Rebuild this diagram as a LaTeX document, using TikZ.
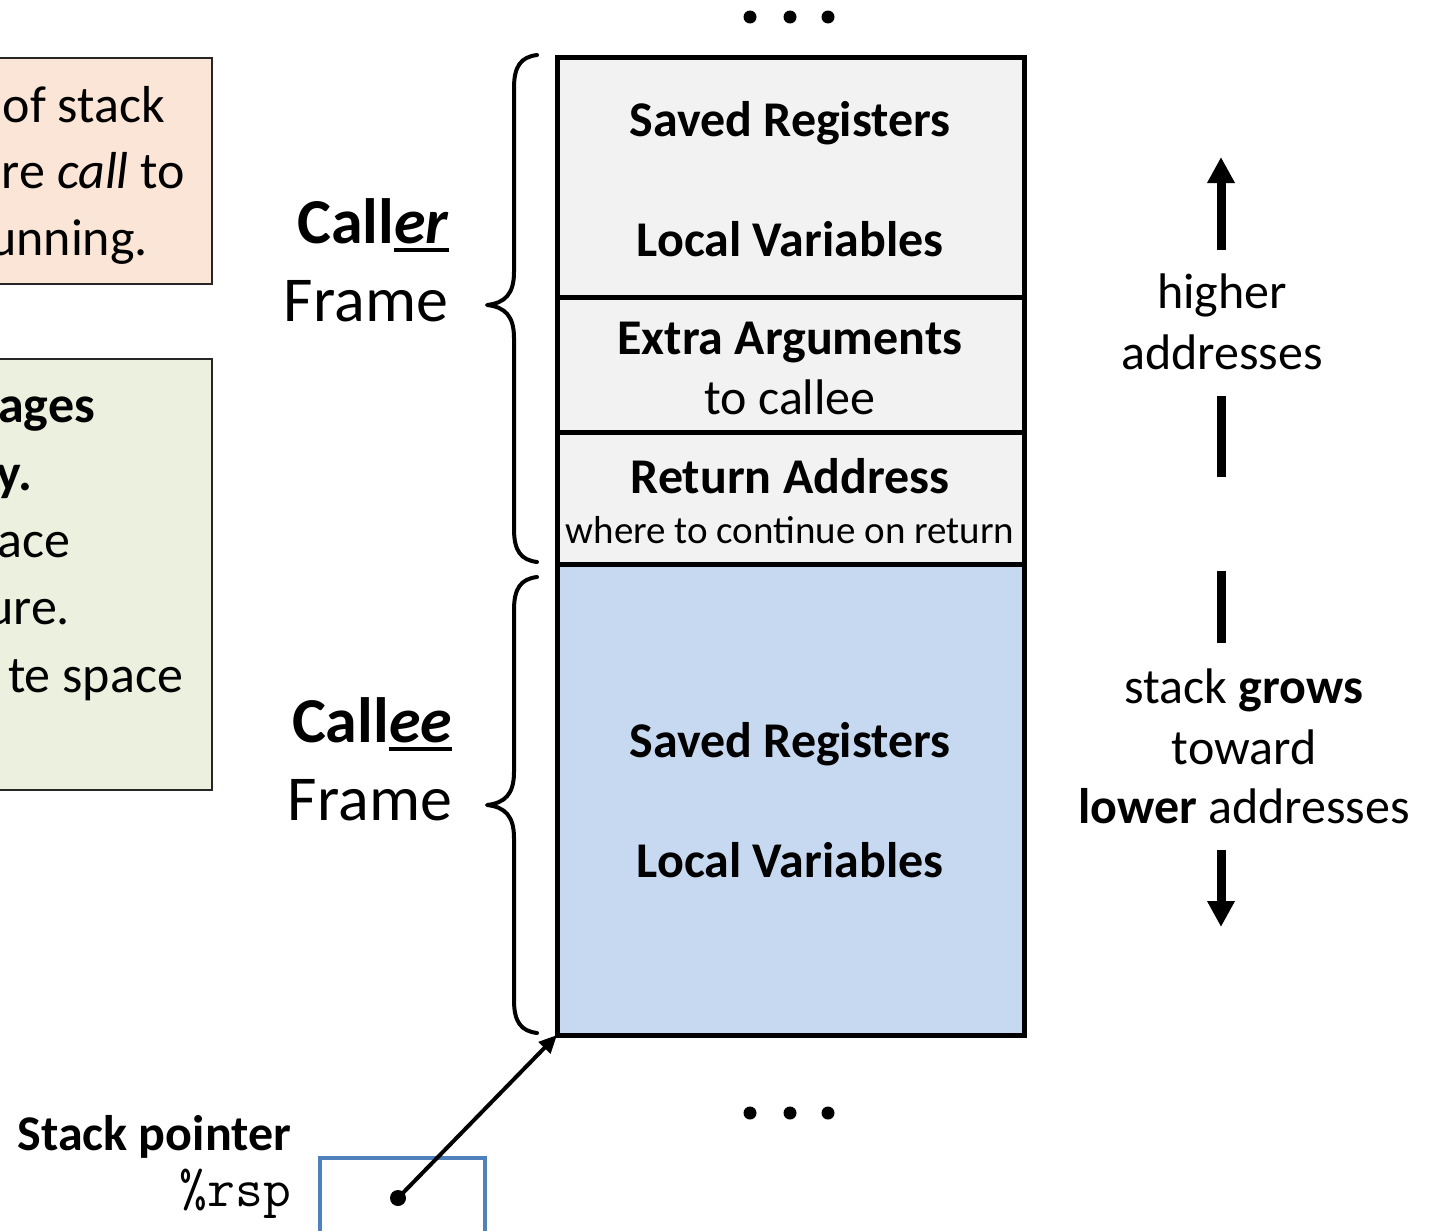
\documentclass[tikz,border=0pt]{standalone}
\usepackage{fontspec}
\setmainfont{Carlito}
\usetikzlibrary{arrows.meta}
\definecolor{peach}{HTML}{FBE5D6}
\definecolor{sage}{HTML}{EBF1DE}
\definecolor{cellgray}{HTML}{F2F2F2}
\definecolor{cellblue}{HTML}{C6D9F1}
\definecolor{regblue}{HTML}{4F81BD}
\newcommand\fsz[1]{\fontsize{#1pt}{#1pt}\selectfont}
\newcommand\thickul[1]{\setbox0\hbox{#1}\leavevmode\rlap{\copy0}\rule[-4.5pt]{\wd0}{2pt}}
\begin{document}
\begin{tikzpicture}[x=0.5pt,y=-0.5pt,
  every node/.style={outer sep=0pt},
  txt/.style={inner sep=0pt, anchor=base, font=\fsz{25}},
  sidetxt/.style={inner sep=0pt, anchor=base east, font=\fsz{26}},
  lbl/.style={inner sep=0pt, anchor=base, font=\fsz{32}},
  cell/.style={draw=black, line width=2.5pt, minimum width=233.5pt, anchor=north west, inner sep=0pt},
  notebox/.style={draw=black!85, line width=1pt},
  bracestyle/.style={line width=2pt, line cap=round, line join=round},
  bigarrow/.style={line width=4.5pt, -{Triangle[length=13pt,width=13pt]}},
  bar/.style={line width=4.5pt},
  ptr/.style={line width=2pt, -{Triangle[length=9pt,width=8pt]}},
  dot/.style={circle, fill=black, inner sep=0pt, minimum size=6pt}
]
\useasboundingbox (0,0) rectangle (1431,1231);
\fill[white] (0,0) rectangle (1431,1231);

% left note boxes (cut off by the page edge)
\node[notebox, fill=peach, minimum width=116pt, minimum height=113pt, anchor=north east] (peachbox) at (212,58) {};
\node[sidetxt] (p1) at (165,122) {of stack};
\node[sidetxt] (p2) at (185,188) {re \textit{call} to};
\node[sidetxt] (p3) at (148,255) {unning.};

\node[notebox, fill=sage, minimum width=116pt, minimum height=215.5pt, anchor=north east] (sagebox) at (212,359) {};
\node[sidetxt] (g1) at (95,422) {\textbf{ages}};
\node[sidetxt] (g2) at (32,490) {\textbf{y.}};
\node[sidetxt] (g3) at (70,557) {ace};
\node[sidetxt] (g4) at (70,624) {ure.};
\node[sidetxt] (g5) at (183,692) {te space};

% stack cells
\node[cell, fill=cellgray, minimum height=120pt] (c1) at (557,57) {};
\node[cell, fill=cellgray, minimum height=67.5pt] (c2) at (557,297) {};
\node[cell, fill=cellgray, minimum height=66pt] (c3) at (557,432) {};
\node[cell, fill=cellblue, minimum height=235.5pt] (c4) at (557,564) {};

\node[txt] (t1) at (790,136) {\textbf{Saved Registers}};
\node[txt] (t2) at (790,256) {\textbf{Local Variables}};
\node[txt] (t3) at (790,354) {\textbf{Extra Arguments}};
\node[txt] (t4) at (790,414) {to callee};
\node[txt] (t5) at (790,493) {\textbf{Return Address}};
\node[txt, font=\fsz{19.5}] (t6) at (790,543) {where to continue on return};
\node[txt] (t7) at (790,757) {\textbf{Saved Registers}};
\node[txt] (t8) at (790,877) {\textbf{Local Variables}};

% ellipses
\foreach \xx in {750,790,828} {
  \fill (\xx,17) circle (6.5);
  \fill (\xx,1113) circle (6.5);
}

% braces
\draw[bracestyle] (537,55) .. controls (521,57) and (514,66) .. (514,88) -- (514,272)
  .. controls (514,294) and (505,303) .. (487,305)
  .. controls (505,307) and (514,316) .. (514,338) -- (514,529)
  .. controls (514,551) and (521,560) .. (537,562);
\draw[bracestyle] (537,577) .. controls (521,579) and (514,588) .. (514,610) -- (514,772)
  .. controls (514,794) and (505,803) .. (487,805)
  .. controls (505,807) and (514,816) .. (514,838) -- (514,1000)
  .. controls (514,1022) and (521,1031) .. (537,1033);

% frame labels
\node[lbl] (caller) at (373,243) {\textbf{Call\thickul{\textit{er}}}};
\node[lbl] (callerframe) at (366,321) {Frame};
\node[lbl] (callee) at (372,742) {\textbf{Call\thickul{\textit{ee}}}};
\node[lbl] (calleeframe) at (370,820) {Frame};

% right side: direction labels and arrows
\node[txt] (hi1) at (1222,308) {higher};
\node[txt] (hi2) at (1222,369) {addresses};
\node[txt] (lo1) at (1244,703) {stack \textbf{grows}};
\node[txt] (lo2) at (1244,764) {toward};
\node[txt] (lo3) at (1244,823) {\textbf{lower} addresses};

\coordinate (upbase) at (1221,250);
\coordinate (uptip) at (1221,157);
\coordinate (bar1a) at (1221,396);
\coordinate (bar1b) at (1221,477);
\coordinate (bar2a) at (1221,571);
\coordinate (bar2b) at (1221,643);
\coordinate (dnbase) at (1221,850);
\coordinate (dntip) at (1221,927);
\draw[bigarrow] (upbase) -- (uptip);
\draw[bar] (bar1a) -- (bar1b);
\draw[bar] (bar2a) -- (bar2b);
\draw[bigarrow] (dnbase) -- (dntip);

% stack pointer
\node[txt, anchor=base east] (sp) at (291,1150) {\textbf{Stack pointer}};
\node[inner sep=0pt, anchor=base east, font=\ttfamily\fsz{27}] (rsptxt) at (291,1206) {\%rsp};
\node[draw=regblue, fill=white, line width=2pt, minimum width=82.5pt, minimum height=60pt, anchor=north west] (reg) at (320,1158) {};
\node[dot, minimum size=8pt] (spdot) at (398,1198) {};
\draw[ptr] (spdot.center) -- (c4.south west);
\end{tikzpicture}
\end{document}
